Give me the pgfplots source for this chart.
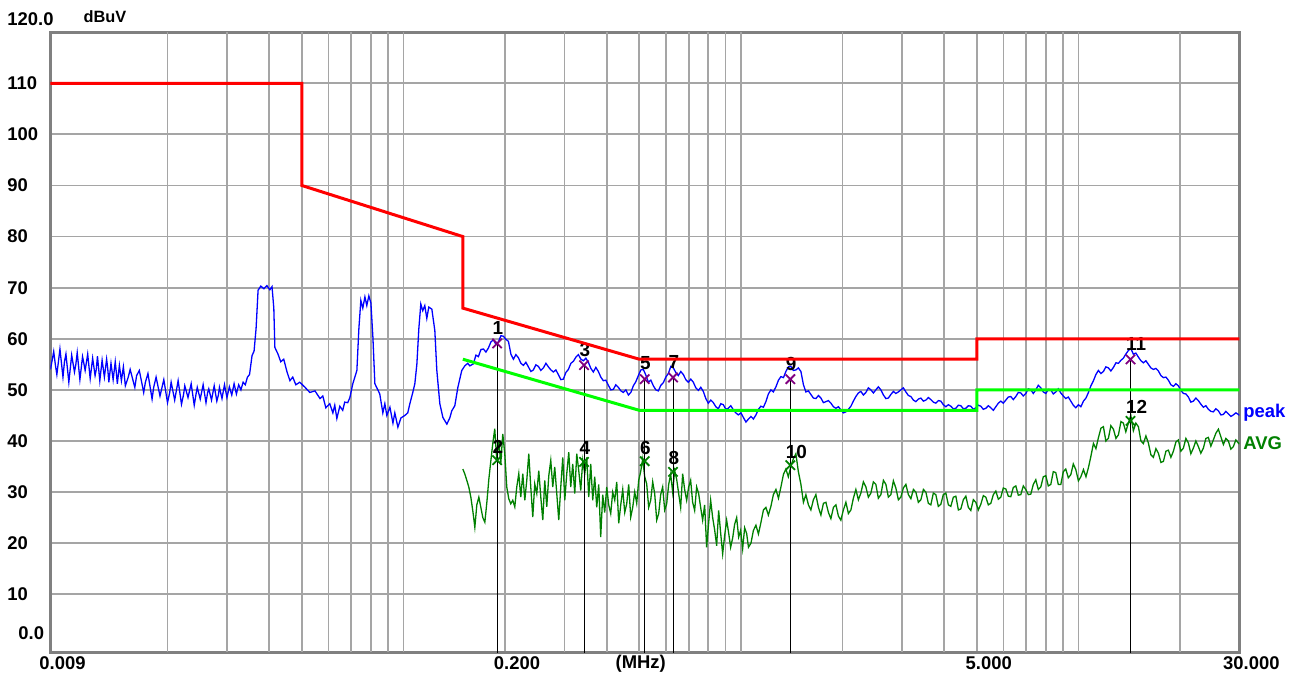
\documentclass[border=0pt]{standalone}
\usepackage{fontspec}
\setmainfont{Liberation Sans}
\usepackage{pgfplots}
\pgfplotsset{compat=1.18}
\definecolor{gridgray}{RGB}{165,165,165}
\definecolor{bordergray}{RGB}{128,128,128}
\definecolor{peakblue}{RGB}{0,0,255}
\definecolor{avggreen}{RGB}{0,128,0}
\definecolor{limgreen}{RGB}{0,255,0}
\definecolor{limred}{RGB}{255,0,0}
\definecolor{mkpurple}{RGB}{128,0,128}
\newcommand{\lab}{\fontsize{9.25}{10}\selectfont\bfseries}
\newcommand{\numf}{\fontsize{9.5}{10}\selectfont\bfseries}
\begin{document}
\begin{tikzpicture}[x=1bp,y=1bp]
\path[use as bounding box] (0,0) rectangle (648,337.5);
\begin{axis}[
  at={(25.25bp,11.5bp)}, anchor=south west,
  width=594.45bp, height=309.9bp, scale only axis,
  xmode=log, xmin=0.009, xmax=30, ymin=-1.3, ymax=120,
  clip mode=individual,
  xtick={0.009,0.2,5,30},
  xticklabels={0.009,0.200,5.000,30.000},
  extra x ticks={0.02,0.03,0.04,0.05,0.06,0.07,0.08,0.09,0.1,0.3,0.4,0.5,0.6,0.7,0.8,0.9,1,2,3,4,6,7,8,9,10,20},
  extra x tick style={grid=major, xticklabel={}},
  ytick={10,20,30,40,50,60,70,80,90,100,110},
  yticklabels={10,20,30,40,50,60,70,80,90,100,110},
  grid=major,
  major grid style={gridgray, line width=0.9bp},
  major tick length=0pt,
  tick style={draw=none},
  axis line style={bordergray, line width=1.5bp},
  ticklabel style={font=\lab, text=black},
  xticklabel style={anchor=north, inner sep=0pt, yshift=-2bp, xshift=6bp},
  yticklabel style={anchor=west, inner sep=0pt, xshift=-21.75bp},
]
% peak trace
\addplot[peakblue, line width=0.65bp] table {
0.0090 54.0
0.0092 57.5
0.0093 55.0
0.0094 53.0
0.0096 58.0
0.0098 52.5
0.0099 55.5
0.0100 57.0
0.0102 51.5
0.0104 56.8
0.0106 53.5
0.0107 55.0
0.0108 57.3
0.0110 52.0
0.0112 56.5
0.0113 55.2
0.0114 53.8
0.0116 57.0
0.0118 52.2
0.0120 56.2
0.0122 52.8
0.0123 54.0
0.0124 56.6
0.0126 51.8
0.0128 55.8
0.0130 52.5
0.0132 56.0
0.0133 54.2
0.0134 51.5
0.0136 55.2
0.0138 52.0
0.0140 55.5
0.0141 53.5
0.0142 51.2
0.0144 54.8
0.0146 51.8
0.0148 54.5
0.0150 50.8
0.0153 52.5
0.0155 54.0
0.0160 50.5
0.0162 52.8
0.0165 53.8
0.0170 49.5
0.0172 51.5
0.0175 53.2
0.0180 48.2
0.0182 50.5
0.0185 52.5
0.0190 48.8
0.0195 52.0
0.0200 47.5
0.0203 49.5
0.0205 51.5
0.0210 48.0
0.0215 51.8
0.0220 47.2
0.0223 49.0
0.0225 50.8
0.0230 48.5
0.0235 51.2
0.0240 47.0
0.0243 49.2
0.0245 50.5
0.0250 48.2
0.0255 51.0
0.0260 47.5
0.0263 49.5
0.0265 50.2
0.0270 48.0
0.0275 50.8
0.0280 47.8
0.0283 49.0
0.0285 50.5
0.0290 48.3
0.0295 51.0
0.0300 48.5
0.0305 50.6
0.0310 49.0
0.0315 51.2
0.0320 49.2
0.0325 51.0
0.0330 50.0
0.0335 51.5
0.0340 51.0
0.0345 52.5
0.0350 53.0
0.0356 56.7
0.0361 57.6
0.0366 62.0
0.0371 69.5
0.0378 70.3
0.0386 69.8
0.0394 70.4
0.0402 69.6
0.0408 70.2
0.0413 66.0
0.0416 58.3
0.0425 57.0
0.0433 55.5
0.0442 56.0
0.0452 53.5
0.0461 51.8
0.0470 52.5
0.0480 51.0
0.0493 51.5
0.0511 50.5
0.0528 49.5
0.0547 49.8
0.0566 48.3
0.0577 48.8
0.0589 46.5
0.0605 47.3
0.0618 45.5
0.0626 47.0
0.0635 44.4
0.0648 46.8
0.0661 46.0
0.0670 47.6
0.0684 47.5
0.0694 48.5
0.0708 51.2
0.0718 52.5
0.0728 53.8
0.0738 62.0
0.0748 67.5
0.0758 66.0
0.0769 68.2
0.0779 66.5
0.0790 68.4
0.0801 67.0
0.0812 60.3
0.0823 51.2
0.0840 50.0
0.0851 49.2
0.0869 45.5
0.0881 47.3
0.0893 45.0
0.0912 46.6
0.0931 43.5
0.0943 45.5
0.0963 42.7
0.0983 44.5
0.1010 45.0
0.1030 45.5
0.1045 47.3
0.1066 49.5
0.1081 51.2
0.1096 55.0
0.1111 62.0
0.1126 66.8
0.1141 65.5
0.1157 66.5
0.1173 64.0
0.1189 66.2
0.1214 65.8
0.1239 61.6
0.1256 53.8
0.1282 47.3
0.1309 44.6
0.1345 43.3
0.1372 44.5
0.1391 45.9
0.1420 46.9
0.1450 50.5
0.1489 53.8
0.1520 54.7
0.1551 55.2
0.1573 54.7
0.1612 55.1
0.1640 56.8
0.1668 56.5
0.1697 57.9
0.1726 58.0
0.1756 57.4
0.1786 58.2
0.1817 59.4
0.1848 59.8
0.1880 58.9
0.1912 59.4
0.1945 60.6
0.1978 60.5
0.2012 59.9
0.2047 59.5
0.2082 57.0
0.2118 56.0
0.2154 56.9
0.2191 56.3
0.2229 55.2
0.2267 54.8
0.2306 55.4
0.2346 54.5
0.2386 53.6
0.2427 53.9
0.2469 54.9
0.2511 54.6
0.2554 53.8
0.2599 54.3
0.2644 55.2
0.2689 54.5
0.2735 53.9
0.2782 53.5
0.2830 53.9
0.2878 53.0
0.2928 52.0
0.2978 52.1
0.3029 53.4
0.3082 54.0
0.3135 55.2
0.3189 55.6
0.3244 56.4
0.3299 56.9
0.3356 56.0
0.3414 55.7
0.3473 56.2
0.3532 55.4
0.3593 54.2
0.3654 53.5
0.3717 54.4
0.3781 53.6
0.3846 52.5
0.3912 51.8
0.3979 51.9
0.4048 50.9
0.4118 50.0
0.4188 50.1
0.4260 51.0
0.4334 50.5
0.4409 49.8
0.4484 49.5
0.4561 50.0
0.4640 49.0
0.4720 49.5
0.4800 50.8
0.4883 51.6
0.4967 52.8
0.5052 53.9
0.5139 54.0
0.5227 52.9
0.5318 51.5
0.5409 51.9
0.5502 50.8
0.5597 50.0
0.5693 49.8
0.5791 50.9
0.5890 51.4
0.5991 52.5
0.6095 53.2
0.6200 54.6
0.6306 54.3
0.6414 53.4
0.6525 52.8
0.6637 53.6
0.6751 53.0
0.6867 52.0
0.6985 51.5
0.7105 52.1
0.7228 51.5
0.7352 50.4
0.7478 49.9
0.7607 50.5
0.7738 49.7
0.7871 48.3
0.8006 47.4
0.8144 48.0
0.8284 47.5
0.8426 46.7
0.8571 46.3
0.8718 47.3
0.8869 47.1
0.9022 46.2
0.9176 46.4
0.9334 46.9
0.9495 46.1
0.9658 45.5
0.9824 45.1
1.000 45.5
1.017 44.6
1.035 43.7
1.053 44.3
1.071 44.8
1.089 44.3
1.108 45.1
1.127 46.2
1.146 46.8
1.166 46.6
1.186 47.7
1.206 49.2
1.227 50.0
1.248 49.6
1.270 50.6
1.292 51.9
1.314 52.6
1.337 52.4
1.359 53.6
1.382 54.5
1.406 54.6
1.430 53.8
1.455 53.9
1.480 54.3
1.506 53.6
1.532 51.0
1.558 49.6
1.585 49.8
1.612 49.1
1.640 48.4
1.668 48.3
1.697 48.9
1.726 48.4
1.756 47.5
1.786 47.7
1.817 47.9
1.848 47.4
1.880 46.7
1.912 46.4
1.945 46.7
1.978 46.1
2.012 45.5
2.047 45.7
2.082 46.2
2.118 46.8
2.154 47.8
2.191 48.7
2.229 49.4
2.267 49.7
2.306 49.0
2.346 49.5
2.386 50.4
2.427 50.0
2.469 49.4
2.511 50.0
2.554 50.6
2.599 50.0
2.644 49.0
2.689 48.3
2.735 48.4
2.782 49.1
2.830 49.7
2.878 49.3
2.928 49.6
2.978 50.0
3.029 50.4
3.082 49.6
3.135 48.9
3.189 48.7
3.244 48.0
3.299 47.7
3.356 48.2
3.414 48.4
3.473 47.8
3.532 48.0
3.593 48.5
3.654 48.1
3.717 47.6
3.781 47.4
3.846 47.9
3.912 47.8
3.979 47.1
4.048 46.7
4.118 47.1
4.188 46.8
4.260 46.3
4.334 46.4
4.409 47.0
4.484 46.9
4.561 46.3
4.640 46.4
4.720 46.9
4.800 46.8
4.883 46.2
4.967 46.5
5.052 47.0
5.139 46.8
5.227 46.2
5.318 46.4
5.409 46.9
5.502 46.5
5.597 46.0
5.693 46.7
5.791 47.4
5.890 47.8
5.991 47.4
6.095 48.0
6.200 48.6
6.306 48.7
6.414 48.1
6.525 48.7
6.637 49.5
6.751 49.4
6.867 48.8
6.985 49.3
7.105 50.2
7.228 50.0
7.352 49.3
7.478 50.0
7.607 50.9
7.738 50.4
7.871 49.6
8.006 49.3
8.144 50.1
8.284 50.0
8.426 49.2
8.571 49.6
8.718 50.2
8.869 49.4
9.022 48.8
9.176 48.3
9.334 48.6
9.495 47.8
9.658 47.0
9.824 46.5
10.00 47.1
10.17 46.7
10.35 47.8
10.53 48.4
10.71 49.5
10.89 50.8
11.08 51.8
11.27 53.0
11.46 53.8
11.66 53.2
11.86 53.6
12.06 54.5
12.27 54.3
12.48 53.7
12.70 54.4
12.92 55.3
13.14 55.2
13.37 55.8
13.59 56.2
13.82 57.0
14.06 57.7
14.30 58.1
14.55 57.0
14.80 57.2
15.06 56.4
15.32 55.7
15.58 55.3
15.85 55.7
16.12 55.0
16.40 54.3
16.68 54.0
16.97 54.2
17.26 53.7
17.56 52.8
17.86 52.4
18.17 52.5
18.48 51.9
18.80 51.0
19.12 50.7
19.45 51.2
19.78 50.8
20.12 49.9
20.47 49.3
20.82 49.2
21.18 48.6
21.54 47.6
21.91 47.8
22.29 48.4
22.67 47.9
23.06 47.2
23.46 46.6
23.86 46.9
24.27 46.2
24.69 45.8
25.11 45.7
25.54 46.3
25.99 45.9
26.44 45.1
26.89 45.2
27.35 45.8
27.82 45.3
28.30 44.8
28.78 45.1
29.28 45.5
29.78 45.2
30.00 45.0
};
% average trace
\addplot[avggreen, line width=0.65bp] table {
0.1500 34.5
0.1521 33.5
0.1541 32.3
0.1562 31.0
0.1584 29.0
0.1605 26.4
0.1628 23.1
0.1650 27.5
0.1673 29.0
0.1696 27.0
0.1719 25.0
0.1743 24.1
0.1767 28.0
0.1791 32.5
0.1815 36.0
0.1840 39.5
0.1865 42.4
0.1891 36.2
0.1917 40.1
0.1943 35.5
0.1970 41.4
0.1997 37.5
0.2024 31.0
0.2052 28.7
0.2080 27.7
0.2109 28.4
0.2138 27.1
0.2167 31.0
0.2197 33.6
0.2227 29.0
0.2258 33.6
0.2289 28.4
0.2320 32.3
0.2352 37.5
0.2384 31.0
0.2417 25.1
0.2450 31.6
0.2484 29.7
0.2518 34.2
0.2553 29.0
0.2588 24.5
0.2623 32.3
0.2659 27.1
0.2696 33.2
0.2733 36.2
0.2770 31.0
0.2808 34.9
0.2847 29.7
0.2886 24.5
0.2926 31.0
0.2966 36.8
0.3007 28.4
0.3048 33.6
0.3090 37.8
0.3132 31.0
0.3175 35.5
0.3219 29.7
0.3263 37.5
0.3308 34.2
0.3353 30.3
0.3399 36.2
0.3446 33.6
0.3493 36.8
0.3541 29.0
0.3590 35.5
0.3639 28.4
0.3689 33.0
0.3740 27.0
0.3791 31.5
0.3843 21.2
0.3896 29.5
0.3949 26.0
0.4003 31.0
0.4058 27.5
0.4114 25.8
0.4170 30.0
0.4228 28.4
0.4286 32.0
0.4345 23.9
0.4405 27.5
0.4465 30.5
0.4527 26.0
0.4588 27.7
0.4651 31.5
0.4715 25.1
0.4780 27.0
0.4845 30.0
0.4912 27.8
0.4979 32.3
0.5047 34.0
0.5117 36.5
0.5187 33.0
0.5258 31.6
0.5330 27.0
0.5404 28.4
0.5478 32.0
0.5553 29.7
0.5630 24.5
0.5707 25.8
0.5785 29.5
0.5864 31.0
0.5945 26.5
0.6027 27.7
0.6110 31.5
0.6193 33.5
0.6278 30.0
0.6364 34.2
0.6452 32.5
0.6540 29.7
0.6630 27.0
0.6721 33.6
0.6813 30.5
0.6907 28.4
0.7002 31.0
0.7098 32.3
0.7195 28.0
0.7294 26.4
0.7394 31.0
0.7496 29.7
0.7599 27.0
0.7703 24.5
0.7809 27.5
0.7916 19.2
0.8025 24.0
0.8135 28.4
0.8247 25.0
0.8360 22.6
0.8475 19.5
0.8591 26.4
0.8709 22.0
0.8829 17.9
0.8950 21.5
0.9073 24.5
0.9198 22.0
0.9324 19.2
0.9452 21.0
0.9582 23.7
0.9714 25.0
0.9847 21.2
0.9982 22.5
1.0119 18.9
1.0258 23.0
1.0399 21.9
1.053 19.2
1.071 20.0
1.089 22.5
1.108 23.5
1.127 21.8
1.146 24.0
1.166 26.5
1.186 27.0
1.206 25.5
1.227 27.2
1.248 29.5
1.270 30.5
1.292 28.8
1.314 31.0
1.337 33.5
1.359 34.5
1.382 33.0
1.406 35.0
1.430 36.5
1.455 37.5
1.480 34.0
1.506 31.5
1.532 28.0
1.558 29.5
1.585 27.5
1.612 26.5
1.640 28.5
1.668 29.5
1.697 27.0
1.726 25.5
1.756 27.8
1.786 28.0
1.817 26.0
1.848 24.8
1.880 27.0
1.912 27.5
1.945 25.3
1.978 24.5
2.012 26.5
2.047 28.0
2.082 25.8
2.118 26.5
2.154 28.8
2.191 30.5
2.229 28.5
2.267 29.8
2.306 32.0
2.346 31.0
2.386 29.0
2.427 29.8
2.469 32.0
2.511 31.5
2.554 28.8
2.599 29.5
2.644 32.3
2.689 31.5
2.735 29.0
2.782 29.5
2.830 32.2
2.878 30.8
2.928 28.5
2.978 29.0
3.029 30.8
3.082 31.5
3.135 29.5
3.189 28.7
3.244 30.5
3.299 30.0
3.356 28.0
3.414 28.5
3.473 30.5
3.532 30.0
3.593 27.8
3.654 27.5
3.717 29.8
3.781 29.5
3.846 27.2
3.912 27.6
3.979 29.5
4.048 29.8
4.118 27.5
4.188 27.2
4.260 29.0
4.334 29.2
4.409 26.5
4.484 26.7
4.561 28.5
4.640 29.2
4.720 27.0
4.800 26.4
4.883 28.5
4.967 28.0
5.052 26.5
5.139 27.6
5.227 29.3
5.318 29.0
5.409 27.5
5.502 27.8
5.597 29.5
5.693 30.2
5.791 28.6
5.890 29.0
5.991 30.8
6.095 30.6
6.200 29.2
6.306 29.1
6.414 30.9
6.525 31.2
6.637 29.4
6.751 29.5
6.867 31.2
6.985 30.5
7.105 29.5
7.228 29.6
7.352 31.5
7.478 32.4
7.607 30.5
7.738 31.0
7.871 33.0
8.006 33.2
8.144 31.2
8.284 31.5
8.426 34.0
8.571 33.8
8.718 31.5
8.869 31.5
9.022 34.0
9.176 34.5
9.334 32.8
9.495 33.4
9.658 35.5
9.824 34.4
10.00 32.2
10.17 33.0
10.35 34.4
10.53 33.0
10.71 34.8
10.89 37.0
11.08 39.5
11.27 38.5
11.46 40.6
11.66 42.5
11.86 42.8
12.06 40.0
12.27 40.5
12.48 43.0
12.70 42.3
12.92 40.5
13.14 41.2
13.37 43.8
13.59 43.5
13.82 41.8
14.06 43.5
14.30 45.0
14.55 42.0
14.80 43.5
15.06 42.8
15.32 40.0
15.58 39.5
15.85 41.0
16.12 39.6
16.40 37.3
16.68 36.8
16.97 38.5
17.26 37.6
17.56 35.8
17.86 36.0
18.17 38.0
18.48 38.2
18.80 36.8
19.12 38.0
19.45 39.8
19.78 40.2
20.12 38.0
20.47 38.6
20.82 40.5
21.18 39.6
21.54 37.5
21.91 38.6
22.29 40.0
22.67 38.9
23.06 37.6
23.46 38.6
23.86 40.5
24.27 40.7
24.69 39.0
25.11 40.2
25.54 41.5
25.99 42.3
26.44 40.8
26.89 39.3
27.35 40.5
27.82 40.0
28.30 38.4
28.78 38.9
29.28 40.2
29.78 39.6
30.00 39.4
};
% marker lines
\addplot[black, line width=0.5bp] coordinates {(0.1895,-5) (0.1895,59.09)};
\addplot[black, line width=0.5bp] coordinates {(0.3429,-5) (0.3429,54.84)};
\addplot[black, line width=0.5bp] coordinates {(0.5187,-5) (0.5187,52.1)};
\addplot[black, line width=0.5bp] coordinates {(0.6293,-5) (0.6293,52.43)};
\addplot[black, line width=0.5bp] coordinates {(1.401,-5) (1.401,52.1)};
\addplot[black, line width=0.5bp] coordinates {(14.27,-5) (14.27,55.96)};
% peak markers
\addplot[only marks, mark=x, mark size=3.3bp, mkpurple, line width=0.9bp,
  nodes near coords, point meta=explicit symbolic,
  nodes near coords style={font=\numf, text=black, anchor=west, inner sep=0pt, xshift=-2.7bp, yshift=7.8bp}]
  coordinates {(0.1895,59.09)[1] (0.3429,54.84)[3] (0.5187,52.1)[5] (0.6293,52.43)[7] (1.401,52.1)[9] (14.27,55.96)[11]};
% average markers
\addplot[only marks, mark=x, mark size=3.3bp, avggreen, line width=0.9bp,
  nodes near coords, point meta=explicit symbolic,
  nodes near coords style={font=\numf, text=black, anchor=west, inner sep=0pt, xshift=-2.7bp, yshift=6.8bp}]
  coordinates {(0.1895,36.24)[2] (0.3429,35.9)[4] (0.5187,36.04)[6] (0.6293,33.95)[8] (1.401,35.26)[10] (14.27,43.93)[12]};
% limit lines (drawn on top, as in the reference)
\addplot[limred, line width=1.5bp] coordinates {(0.009,110)(0.05,110)(0.05,90)(0.15,80)(0.15,66)(0.5,56)(5,56)(5,60)(30,60)};
\addplot[limgreen, line width=1.5bp] coordinates {(0.15,56)(0.5,46)(5,46)(5,50)(30,50)};
% texts
\node[font=\lab, anchor=west, inner sep=0pt, xshift=-21.75bp, yshift=6.5bp] at (axis cs:0.009,120) {120.0};
\node[font=\lab, anchor=west, inner sep=0pt, xshift=-16.25bp, yshift=6.25bp] at (axis cs:0.009,0) {0.0};
\node[font=\fontsize{8.2}{9}\selectfont\bfseries, anchor=center, inner sep=0pt, xshift=27.25bp, yshift=7.6bp] at (axis cs:0.009,120) {dBuV};
\node[font=\lab, anchor=north, inner sep=0pt, yshift=-1.5bp] at (axis cs:0.5048,-1.3) {(MHz)};
\node[font=\lab, text=peakblue, anchor=west, inner sep=0pt, xshift=1.8bp] at (axis cs:30,45.44) {peak};
\node[font=\lab, text=avggreen, anchor=west, inner sep=0pt, xshift=1.8bp] at (axis cs:30,39.57) {AVG};
\end{axis}
\end{tikzpicture}
\end{document}
